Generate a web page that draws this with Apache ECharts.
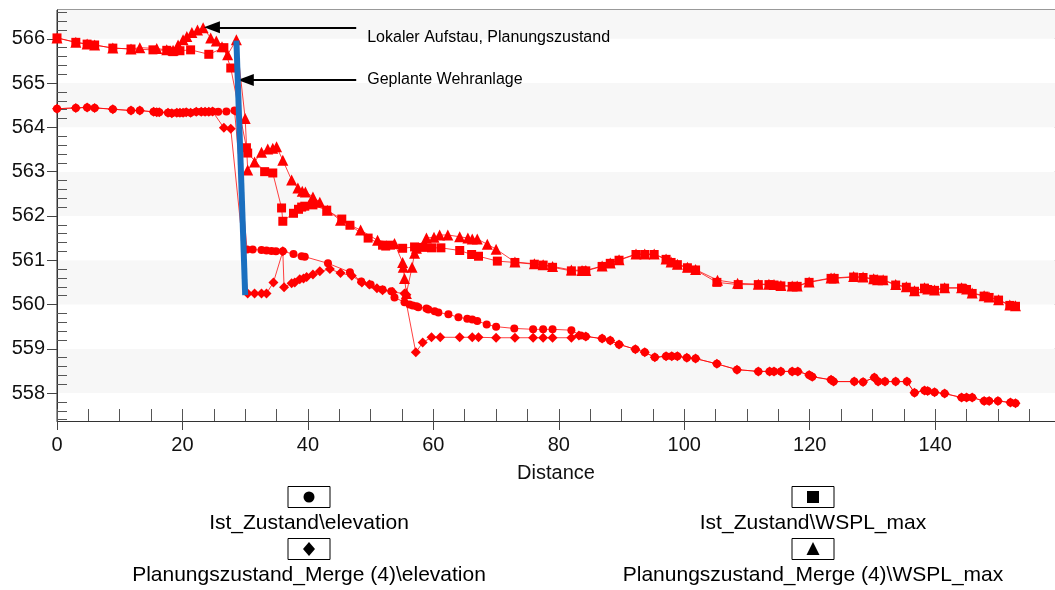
<!DOCTYPE html>
<html>
<head>
<meta charset="utf-8">
<script src="https://cdn.jsdelivr.net/npm/echarts@6/dist/echarts.min.js"></script>
<style>
  html, body { margin: 0; padding: 0; background: #fff; }
  #chart { width: 1055px; height: 590px; }
</style>
</head>
<body>
<div id="chart"></div>
<script>
// series names (legend)
const seriesNames = [
  'Ist_Zustand\\elevation',
  'Ist_Zustand\\WSPL_max',
  'Planungszustand_Merge (4)\\elevation',
  'Planungszustand_Merge (4)\\WSPL_max'
];
const annotations = ['Lokaler Aufstau, Planungszustand', 'Geplante Wehranlage'];

// Ist_Zustand\elevation (circle)
const istElevX = [0, 3.0, 4.8, 6.0, 8.9, 11.8, 13.2, 15.4, 15.9, 16.3, 17.7, 18.3, 19.1, 19.6, 20.1, 20.6, 21.3, 22.2, 23.0, 23.6, 24.2, 24.8, 25.7, 27.0, 28.3, 28.6,
  30.3, 31.2, 32.6, 33.4, 34.2, 34.9, 36.0, 37.7, 39.0, 39.5, 43.2, 46.7, 48.5, 50.0, 51.9, 53.3, 53.8, 55.4, 56.2, 56.7, 57.3, 57.6, 58.9, 59.2, 60.2, 60.8,
  62.4, 64.0, 65.4, 66.2, 67.0, 68.5, 70.0, 72.9, 75.9, 77.5, 79.0, 82.0, 83.5, 84.3, 86.9, 88.2, 89.6, 92.2, 93.7, 95.3, 97.1, 98.0, 98.9, 100.4, 101.8,
  105.2, 108.4, 111.8, 113.6, 114.3, 115.4, 117.2, 118.1, 119.9, 120.4, 123.4, 123.8, 127.1, 128.5, 130.3, 130.9, 132.0, 133.7, 135.5, 136.7, 138.3, 138.8,
  139.9, 141.5, 144.2, 145.0, 145.9, 147.8, 148.6, 150.0, 152.0, 152.8];
const istElevY = [564.42, 564.44, 564.45, 564.44, 564.41, 564.38, 564.38, 564.35, 564.34, 564.34, 564.33, 564.32, 564.33, 564.33, 564.33, 564.34, 564.33, 564.35, 564.35, 564.35, 564.35, 564.36, 564.35, 564.36, 564.38, 564.36,
  561.24, 561.24, 561.23, 561.22, 561.21, 561.2, 561.2, 561.14, 561.09, 561.08, 560.93, 560.73, 560.52, 560.45, 560.34, 560.3, 560.16, 560.05, 560.0, 559.98, 559.96, 559.94, 559.91, 559.89, 559.85, 559.82,
  559.78, 559.71, 559.68, 559.66, 559.63, 559.55, 559.5, 559.46, 559.44, 559.44, 559.44, 559.42, 559.3, 559.28, 559.23, 559.19, 559.1, 558.99, 558.92, 558.81, 558.83, 558.83, 558.83, 558.8, 558.78,
  558.66, 558.53, 558.49, 558.49, 558.49, 558.49, 558.49, 558.49, 558.41, 558.37, 558.3, 558.26, 558.26, 558.25, 558.35, 558.26, 558.26, 558.26, 558.26, 558.01, 558.06, 558.05,
  558.02, 557.99, 557.9, 557.9, 557.9, 557.82, 557.82, 557.82, 557.79, 557.77];

// Planungszustand_Merge (4)\elevation (diamond)
const planElevX = [0, 3.0, 4.8, 6.0, 8.9, 11.8, 13.2, 15.4, 15.9, 16.3, 17.7, 18.3, 19.1, 19.6, 20.1, 20.6, 21.3, 22.2, 23.0, 23.6, 24.2, 24.8, 26.6, 27.7,
  30.4, 31.5, 32.6, 33.4, 34.5, 36.0, 36.2, 37.4, 37.9, 38.7, 39.3, 39.8, 40.8, 41.9, 43.5, 45.2, 47.0, 48.6, 49.8, 51.0, 51.9, 53.5, 55.4, 55.7,
  57.2, 58.3, 59.7, 61.1, 64.2, 66.2, 67.2, 70.0, 73.0, 75.9, 77.5, 79.0, 82.0, 83.2, 84.3, 86.9, 88.2, 89.6, 92.2, 93.7, 95.3, 97.1, 98.0, 98.9, 100.4, 101.8,
  105.2, 108.4, 111.8, 113.6, 114.3, 115.4, 117.2, 118.1, 119.9, 120.4, 123.4, 123.8, 127.1, 128.5, 130.3, 130.9, 132.0, 133.7, 135.5, 136.7, 138.3, 138.8,
  139.9, 141.5, 144.2, 145.0, 145.9, 147.8, 148.6, 150.0, 152.0, 152.8];
const planElevY = [564.42, 564.44, 564.45, 564.44, 564.41, 564.38, 564.38, 564.35, 564.34, 564.34, 564.33, 564.32, 564.33, 564.33, 564.33, 564.34, 564.33, 564.35, 564.35, 564.35, 564.35, 564.36, 563.99, 563.97,
  560.25, 560.25, 560.25, 560.25, 560.5, 561.2, 560.39, 560.48, 560.5, 560.57, 560.59, 560.62, 560.68, 560.75, 560.8, 560.71, 560.65, 560.5, 560.45, 560.37, 560.32, 560.28, 560.25, 560.22,
  558.92, 559.14, 559.26, 559.26, 559.26, 559.26, 559.26, 559.25, 559.25, 559.25, 559.25, 559.25, 559.25, 559.3, 559.28, 559.23, 559.19, 559.1, 558.99, 558.92, 558.81, 558.83, 558.83, 558.83, 558.8, 558.78,
  558.66, 558.53, 558.49, 558.49, 558.49, 558.49, 558.49, 558.49, 558.41, 558.37, 558.3, 558.26, 558.26, 558.25, 558.35, 558.26, 558.26, 558.26, 558.26, 558.01, 558.06, 558.05,
  558.02, 557.99, 557.9, 557.9, 557.9, 557.82, 557.82, 557.82, 557.79, 557.77];

// Ist_Zustand\WSPL_max (square)
const istWsplX = [0, 3.0, 4.8, 6.0, 8.9, 11.8, 15.3, 17.5, 18.5, 19.6, 21.3, 24.2, 26.6, 27.7, 30.2, 30.4, 33.1, 34.4, 35.8, 36.0, 37.7, 38.5, 39.0, 39.5, 40.8,
  43.0, 45.4, 46.7, 49.6, 51.9, 52.4, 53.2, 55.1, 57.0, 58.3, 59.7, 61.2, 64.2, 66.1, 67.2, 70.2, 73.0, 76.1, 77.5, 79.0, 82.0, 83.7, 84.3, 86.9, 88.2, 89.6,
  92.3, 93.7, 95.2, 97.1, 97.9, 98.9, 100.5, 101.8, 105.2, 108.6, 111.8, 113.5, 114.3, 115.4, 117.2, 118.0, 119.9, 123.4, 123.9, 127.0, 128.5, 130.2, 130.8,
  131.7, 133.7, 135.4, 136.7, 138.3, 138.8, 139.9, 141.5, 144.2, 145.0, 145.9, 147.8, 148.6, 150.1, 151.9, 152.8];
const istWsplY = [566.02, 565.92, 565.88, 565.86, 565.79, 565.77, 565.75, 565.74, 565.71, 565.73, 565.75, 565.65, 565.8, 565.34, 563.54, 563.42, 563.0, 562.97, 562.18, 561.88, 562.06, 562.15, 562.2, 562.22, 562.25,
  562.13, 561.93, 561.79, 561.5, 561.34, 561.32, 561.34, 561.27, 561.3, 561.29, 561.28, 561.28, 561.22, 561.13, 561.09, 560.98, 560.95, 560.91, 560.89, 560.84, 560.76, 560.76, 560.76, 560.86, 560.93, 561.0,
  561.13, 561.13, 561.13, 561.02, 560.95, 560.9, 560.83, 560.78, 560.5, 560.45, 560.45, 560.45, 560.44, 560.42, 560.41, 560.41, 560.5, 560.59, 560.59, 560.62, 560.61, 560.57, 560.55,
  560.55, 560.44, 560.39, 560.3, 560.37, 560.34, 560.32, 560.37, 560.37, 560.34, 560.25, 560.19, 560.16, 560.1, 559.98, 559.96];

// Planungszustand_Merge (4)\WSPL_max (triangle)
const planWsplX = [0, 3.0, 4.8, 6.0, 8.9, 11.8, 13.2, 15.9, 17.5, 18.5, 19.3, 20.1, 20.7, 21.5, 22.4, 23.3, 24.5, 25.4, 26.3, 27.2, 28.6, 30.0, 30.4, 31.5,
  32.6, 33.6, 34.4, 35.0, 36.0, 37.4, 38.4, 39.1, 39.6, 40.8, 41.9, 43.1, 45.2, 48.4, 51.1, 53.8, 55.1, 55.2, 55.4, 55.7, 56.6, 57.0, 57.3, 58.9, 60.1, 61.0,
  62.3, 64.2, 65.5, 66.2, 67.0, 68.6, 70.0, 73.0, 76.1, 77.5, 79.0, 82.0, 83.7, 84.3, 86.9, 88.2, 89.6, 92.3, 93.7, 95.2, 97.1, 97.9, 98.9, 100.5, 101.8,
  105.3, 108.5, 111.8, 113.5, 114.3, 115.4, 117.2, 118.0, 119.9, 123.4, 123.9, 127.0, 128.5, 130.2, 130.8, 131.7, 133.7, 135.4, 136.7, 138.3, 138.8, 139.9,
  141.5, 144.2, 145.0, 145.9, 147.8, 148.6, 150.1, 151.9, 152.8];
const planWsplY = [566.02, 565.92, 565.88, 565.86, 565.79, 565.77, 565.8, 565.78, 565.75, 565.74, 565.86, 565.98, 566.05, 566.14, 566.2, 566.25, 566.02, 565.95, 565.82, 565.64, 565.98, 564.2, 563.04, 563.22,
  563.44, 563.51, 563.53, 563.56, 563.26, 562.81, 562.63, 562.56, 562.54, 562.43, 562.31, 562.13, 561.9, 561.68, 561.45, 561.38, 560.95, 560.84, 560.59, 560.25, 560.84, 561.16, 561.27, 561.5, 561.52, 561.57,
  561.57, 561.53, 561.5, 561.48, 561.48, 561.36, 561.25, 560.96, 560.92, 560.9, 560.86, 560.78, 560.77, 560.77, 560.87, 560.94, 561.01, 561.14, 561.14, 561.14, 561.03, 560.96, 560.91, 560.84, 560.79,
  560.55, 560.48, 560.46, 560.46, 560.45, 560.43, 560.42, 560.42, 560.51, 560.6, 560.6, 560.63, 560.62, 560.58, 560.56, 560.56, 560.45, 560.4, 560.31, 560.38, 560.35, 560.33,
  560.38, 560.38, 560.35, 560.26, 560.2, 560.17, 560.11, 559.99, 559.97];

// planned weir (blue bar) and annotation arrows
const weirX = [28.6, 30.0];
const weirY = [565.96, 560.21];
const arrowStartX = [47.7, 47.7];
const arrowEndX = [24.7, 30.1];
const arrowY = [566.26, 565.07];

const yMin = 557.37, yMax = 566.65;
const xMin = 0, xMax = 159.1;

const FONT = 'Liberation Sans, Arial, sans-serif';
const RED = '#ff0000';

const zip = (xs, ys) => xs.map((x, i) => [x, ys[i]]);

const chartDom = document.getElementById('chart');
const myChart = echarts.init(chartDom);

function redSeries(name, xs, ys, symbol, size) {
    return {
        name: name,
        type: 'line',
        data: zip(xs, ys),
        symbol: symbol,
        symbolSize: size,
        showAllSymbol: true,
        itemStyle: { color: RED },
        lineStyle: { color: RED, width: 1, opacity: 0.75 },
        emphasis: { disabled: true }
    };
}

// legend drawn as boxes with the symbol above the name
const legendPos = [[309, 497], [813, 497], [309, 549], [813, 549]];
const legendGraphics = [];
seriesNames.forEach((nm, i) => {
    const [cx, cy] = legendPos[i];
    legendGraphics.push({
        type: 'rect', shape: { x: cx - 21, y: cy - 10.5, width: 42, height: 21 },
        style: { fill: '#fff', stroke: '#000', lineWidth: 1 }
    });
    let sym;
    if (i === 0) sym = { type: 'circle', shape: { cx: cx, cy: cy, r: 5.5 }, style: { fill: '#000' } };
    if (i === 1) sym = { type: 'rect', shape: { x: cx - 6, y: cy - 6, width: 12, height: 12 }, style: { fill: '#000' } };
    if (i === 2) sym = { type: 'polygon', shape: { points: [[cx, cy - 7], [cx + 6, cy], [cx, cy + 7], [cx - 6, cy]] }, style: { fill: '#000' } };
    if (i === 3) sym = { type: 'polygon', shape: { points: [[cx, cy - 7], [cx + 6.5, cy + 6], [cx - 6.5, cy + 6]] }, style: { fill: '#000' } };
    legendGraphics.push(sym);
    legendGraphics.push({
        type: 'text', x: cx, y: cy + 26,
        style: { text: nm, fill: '#000', font: '21px ' + FONT, textAlign: 'center', textVerticalAlign: 'middle' }
    });
});

const option = {
    animation: false,
    backgroundColor: '#fff',
    grid: {
        left: 57, top: 10, right: -2, bottom: 169,
        show: true, borderColor: '#333', borderWidth: 1, backgroundColor: 'transparent'
    },
    xAxis: [
        {
            type: 'value', min: xMin, max: xMax, interval: 20, position: 'bottom',
            axisLine: { show: true, lineStyle: { color: '#333' } },
            axisTick: { show: true, length: 9, lineStyle: { color: '#444' } },
            axisLabel: { fontSize: 20, color: '#111', fontFamily: FONT, margin: 14, showMaxLabel: false },
            splitLine: { show: false },
            name: 'Distance', nameLocation: 'middle', nameGap: 42,
            nameTextStyle: { fontSize: 20, color: '#111', fontFamily: FONT }
        },
        {
            // inner minor ticks every 5
            type: 'value', min: xMin, max: xMax, interval: 5, position: 'bottom',
            axisLine: { show: false },
            axisTick: { show: true, inside: true, length: 12, lineStyle: { color: '#555' } },
            axisLabel: { show: false },
            splitLine: { show: false }
        }
    ],
    yAxis: [
        {
            type: 'value', min: yMin, max: yMax, splitNumber: 9, position: 'left',
            axisLine: { show: true, lineStyle: { color: '#333' } },
            axisTick: { show: true, length: 10, lineStyle: { color: '#444' } },
            axisLabel: { fontSize: 20, color: '#111', fontFamily: FONT, margin: 12, showMinLabel: false, showMaxLabel: false },
            splitLine: { show: false },
            splitArea: { show: true, areaStyle: { color: ['#ffffff', '#f7f7f7'] } }
        },
        {
            // inner minor ticks every 0.2
            type: 'value', min: yMin, max: yMax, splitNumber: 9, position: 'left',
            axisLine: { show: false },
            axisTick: { show: false, inside: true },
            minorTick: { show: true, splitNumber: 5, length: 10, lineStyle: { color: '#555' } },
            axisLabel: { show: false },
            splitLine: { show: false }
        }
    ],
    series: [
        redSeries(seriesNames[0], istElevX, istElevY, 'circle', 8),
        redSeries(seriesNames[2], planElevX, planElevY, 'diamond', 10),
        redSeries(seriesNames[1], istWsplX, istWsplY, 'rect', 9),
        redSeries(seriesNames[3], planWsplX, planWsplY, 'triangle', 11),
        {
            name: 'Wehranlage',
            type: 'line',
            data: zip(weirX, weirY),
            symbol: 'none',
            z: 5,
            lineStyle: { color: '#1a6fbf', width: 6 },
            emphasis: { disabled: true },
            markLine: {
                silent: true,
                symbol: ['none', 'triangle'],
                symbolSize: [12, 16],
                lineStyle: { color: '#000', width: 2, type: 'solid' },
                label: {
                    show: true, position: 'start', distance: 11, lineHeight: 20,
                    formatter: p => (p.dataIndex === 0 ? '\n' + p.name : p.name),
                    color: '#000', fontSize: 16, fontFamily: FONT
                },
                data: [
                    [{ name: annotations[0], coord: [arrowStartX[0], arrowY[0]] },
                     { coord: [arrowEndX[0], arrowY[0]] }],
                    [{ name: annotations[1], coord: [arrowStartX[1], arrowY[1]] },
                     { coord: [arrowEndX[1], arrowY[1]] }]
                ]
            }
        }
    ],
    graphic: legendGraphics
};

myChart.setOption(option);
window.addEventListener('resize', () => myChart.resize());
</script>
</body>
</html>
